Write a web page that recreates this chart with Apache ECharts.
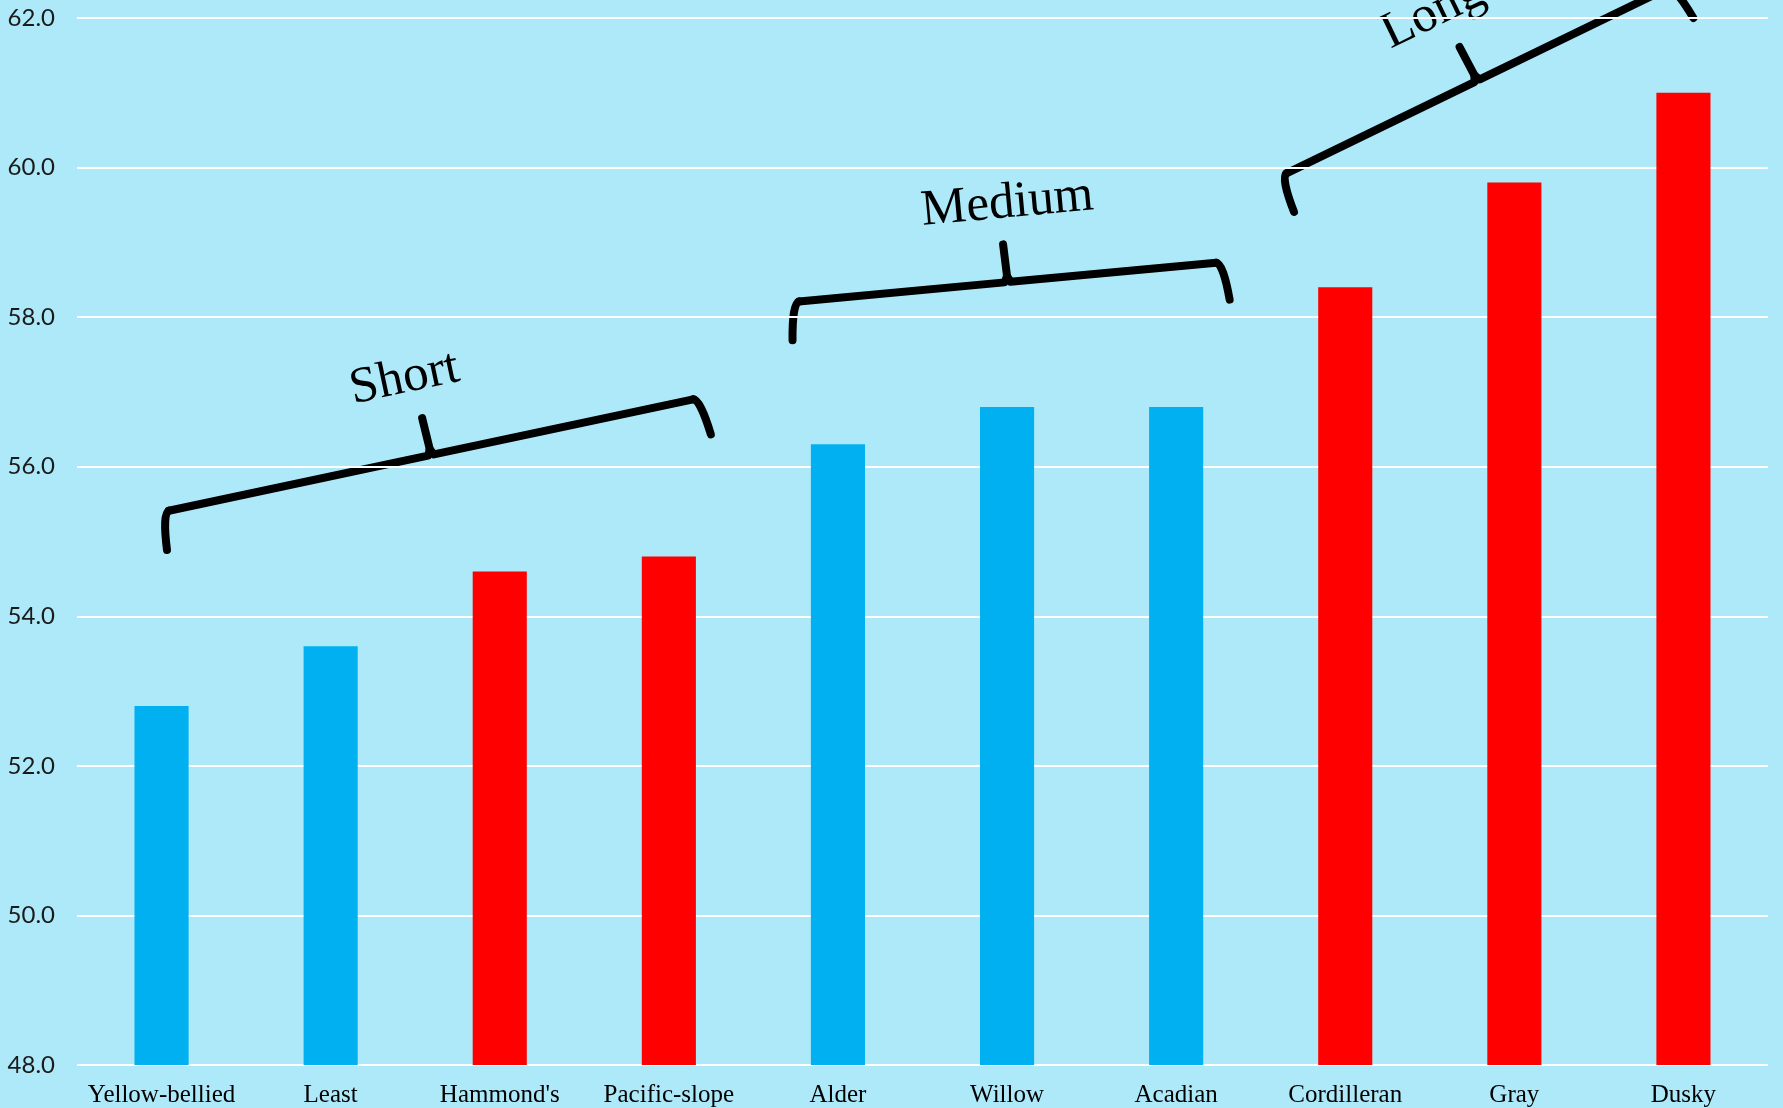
<!DOCTYPE html>
<html lang="en">
<head>
<meta charset="UTF-8">
<title>Flycatchers</title>
<style>
  html, body { margin: 0; padding: 0; background: #ADE9F8; }
  #main { width: 1783px; height: 1108px; }
</style>
</head>
<body>
<div id="main"></div>
<script src="https://cdn.jsdelivr.net/npm/echarts@6/dist/echarts.min.js"></script>
<script>
const species = ['Yellow-bellied', 'Least', "Hammond's", 'Pacific-slope', 'Alder', 'Willow', 'Acadian', 'Cordilleran', 'Gray', 'Dusky'];
const values = [52.8, 53.6, 54.6, 54.8, 56.3, 56.8, 56.8, 58.4, 59.8, 61.0];
const redSpecies = ["Hammond's", 'Pacific-slope', 'Cordilleran', 'Gray', 'Dusky'];
const groupLabels = ['Short', 'Medium', 'Long'];
const yMin = 48, yMax = 62, yStep = 2;

// hand drawn braces: left corner, length, tilt (deg), label offset from middle
const braceLayout = [
  { x: 163, y: 512, len: 548, deg: 12.0, tx: -10, ty: -80 },
  { x: 793, y: 302, len: 431, deg: 5.3, tx: 7, ty: -78 },
  { x: 1281, y: 176, len: 436, deg: 25.9, tx: -10, ty: -80 }
];

const serif = '"Liberation Serif", "Times New Roman", serif';

function makeBrace(label, b) {
  const L = b.len, m = L / 2, H = 38, T = 38;
  const line = { stroke: '#000', lineWidth: 8, lineCap: 'round', lineJoin: 'round', fill: null };
  return {
    type: 'group',
    x: b.x,
    y: b.y,
    rotation: b.deg * Math.PI / 180,
    children: [
      { type: 'bezierCurve', shape: { x1: -4, y1: H, cpx1: -1, cpy1: 2, x2: 6, y2: 0 }, style: line },
      { type: 'polyline', shape: { points: [[6, 0], [m - 3, 0], [m, -6], [m - 1, -T]] }, style: line },
      { type: 'polyline', shape: { points: [[m, -6], [m + 3, 0], [L - 6, 0]] }, style: line },
      { type: 'bezierCurve', shape: { x1: L - 6, y1: 0, cpx1: L + 1, cpy1: 2, x2: L + 4, y2: H }, style: line },
      {
        type: 'text',
        x: m + b.tx,
        y: b.ty,
        style: {
          text: label,
          font: '51px ' + serif,
          fill: '#000',
          align: 'center',
          verticalAlign: 'middle',
          textAlign: 'center',
          textVerticalAlign: 'middle'
        }
      }
    ]
  };
}

const chart = echarts.init(document.getElementById('main'));

chart.setOption({
  backgroundColor: '#ADE9F8',
  animation: false,
  grid: { left: 77, right: 15, top: 18, bottom: 43 },
  xAxis: {
    type: 'category',
    data: species,
    axisLine: { show: false },
    axisTick: { show: false },
    axisLabel: {
      interval: 0,
      margin: 18,
      color: '#000',
      fontFamily: serif,
      fontSize: 25
    }
  },
  yAxis: {
    type: 'value',
    min: yMin,
    max: yMax,
    interval: yStep,
    axisLine: { show: false },
    axisTick: { show: false },
    splitLine: { lineStyle: { color: '#ffffff', width: 2 } },
    axisLabel: {
      margin: 22,
      color: '#1a1a1a',
      fontFamily: 'Lato, "Noto Sans", sans-serif',
      fontSize: 24,
      formatter: v => v.toFixed(1)
    }
  },
  series: [{
    type: 'bar',
    barWidth: '32%',
    data: values,
    itemStyle: {
      color: p => redSpecies.includes(species[p.dataIndex]) ? '#FF0000' : '#00B0F0'
    }
  }],
  graphic: groupLabels.map((g, i) => makeBrace(g, braceLayout[i]))
});
</script>
</body>
</html>
